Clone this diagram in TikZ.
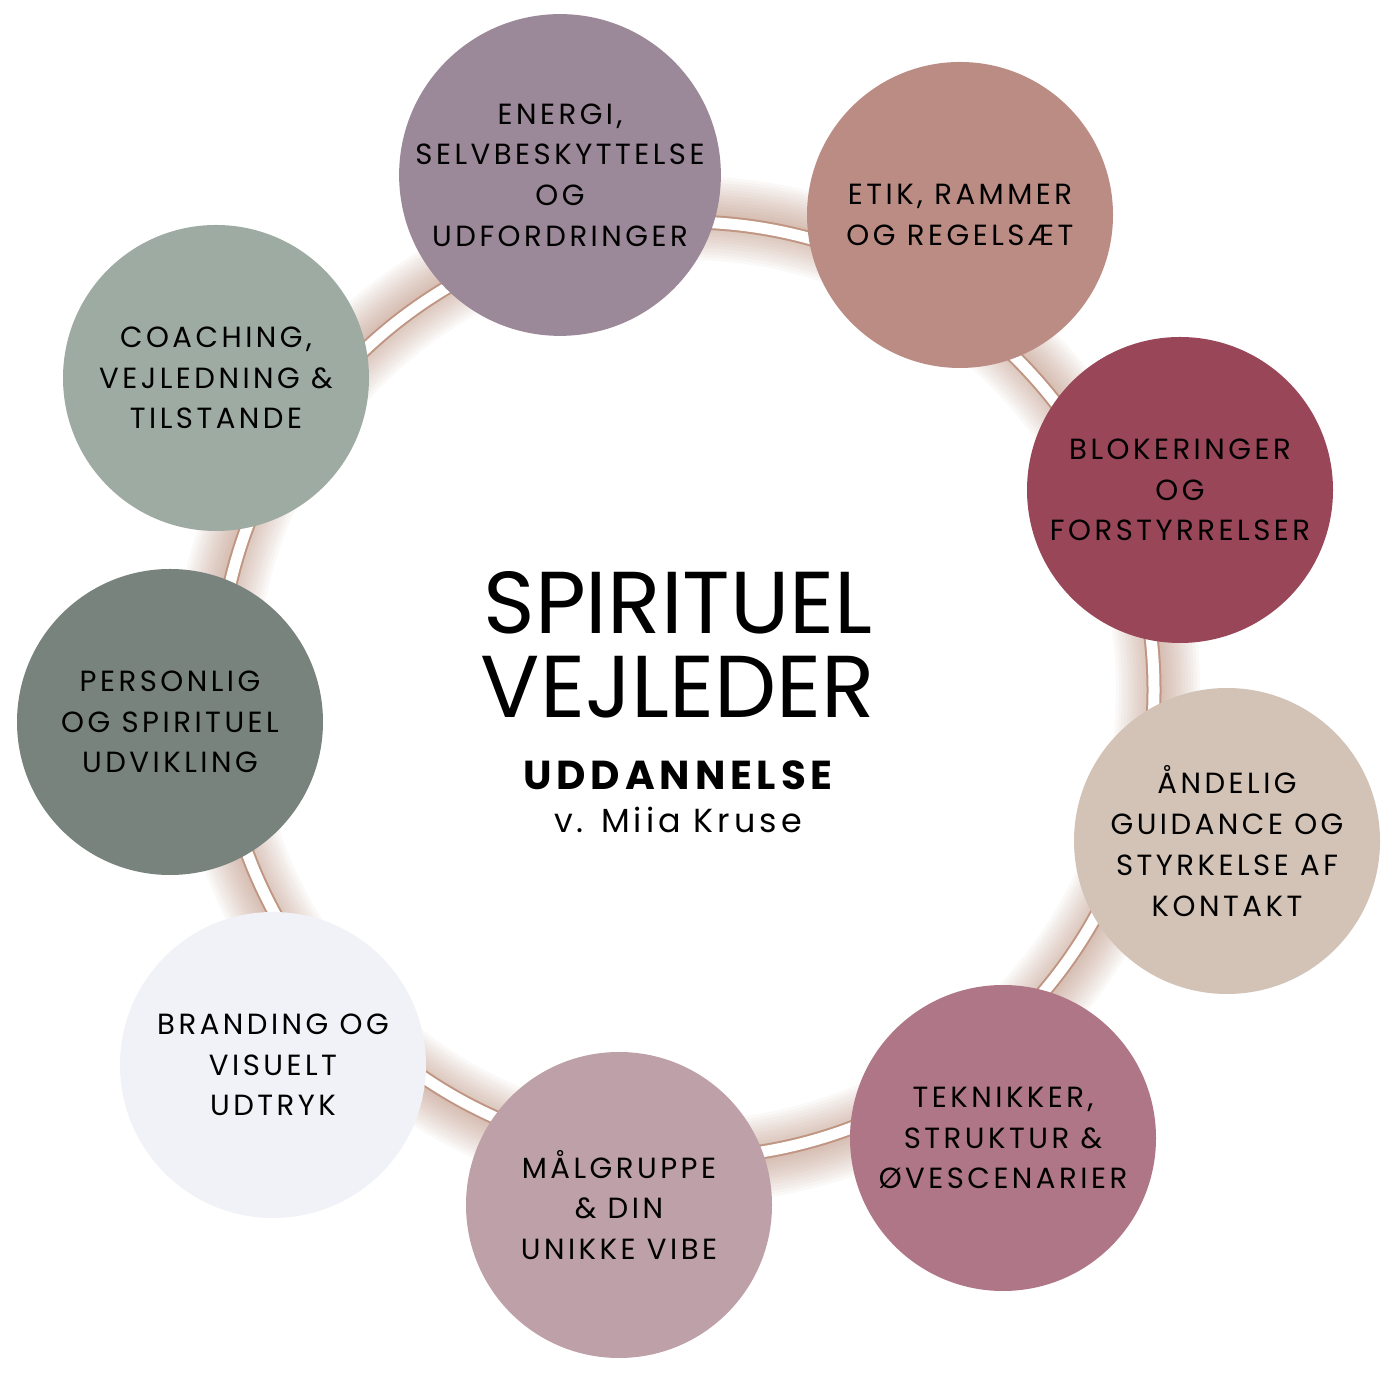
\documentclass[tikz,border=0pt]{standalone}
\usepackage{fontspec}
\setmainfont{Poppins}[LetterSpace=12]
\newfontfamily\titlefont{Poppins}[LetterSpace=0]
\definecolor{c1}{HTML}{9B8898}
\definecolor{c2}{HTML}{BB8C84}
\definecolor{c3}{HTML}{994659}
\definecolor{c4}{HTML}{D3C3B7}
\definecolor{c5}{HTML}{AE7686}
\definecolor{c6}{HTML}{BEA0A8}
\definecolor{c7}{HTML}{F0F2F7}
\definecolor{c8}{HTML}{78837D}
\definecolor{c9}{HTML}{9EABA3}
\definecolor{ringbrown}{HTML}{B07A63}
\tikzset{topic/.style={circle,minimum size=3.06cm,inner sep=0pt,align=center,font=\fontsize{8.3}{11.6}\selectfont,text=black}}
\begin{document}
\begin{tikzpicture}
\useasboundingbox[fill=white] (0,0) rectangle (14,14);
\coordinate (ctr) at (6.86,7.10);
% glow
\foreach \i in {1,...,14}{
  \draw[ringbrown,opacity=0.045,line width=\i*0.06cm] (ctr) circle (4.72);
}
\draw[ringbrown!80,line width=0.15cm] (ctr) circle (4.68);
\draw[white,line width=0.11cm] (ctr) circle (4.68);
\node[topic,fill=c1] (a) at (5.60,12.25) {ENERGI,\\SELVBESKYTTELSE\\OG\\UDFORDRINGER};
\node[topic,fill=c2] (b) at (9.60,11.85) {ETIK, RAMMER\\OG REGELSÆT};
\node[topic,fill=c3] (c) at (11.80,9.10) {BLOKERINGER\\OG\\FORSTYRRELSER};
\node[topic,fill=c4] (d) at (12.27,5.59) {ÅNDELIG\\GUIDANCE OG\\STYRKELSE AF\\KONTAKT};
\node[topic,fill=c5] (e) at (10.03,2.62) {TEKNIKKER,\\STRUKTUR \&\\ØVESCENARIER};
\node[topic,fill=c6] (f) at (6.19,1.95) {MÅLGRUPPE\\\& DIN\\UNIKKE VIBE};
\node[topic,fill=c7] (g) at (2.73,3.35) {BRANDING OG\\VISUELT\\UDTRYK};
\node[topic,fill=c8] (h) at (1.70,6.78) {PERSONLIG\\OG SPIRITUEL\\UDVIKLING};
\node[topic,fill=c9] (i) at (2.16,10.22) {COACHING,\\VEJLEDNING \&\\TILSTANDE};
\node[align=center,font=\titlefont\fontsize{25}{24}\selectfont] (t) at (6.78,7.55) {SPIRITUEL\\VEJLEDER};
\node[font=\fontsize{11.5}{13}\selectfont\bfseries] (u) at (6.78,6.25) {UDDANNELSE};
\node[font=\fontsize{9.5}{11}\selectfont] (v) at (6.78,5.80) {v. Miia Kruse};
\end{tikzpicture}
\end{document}
